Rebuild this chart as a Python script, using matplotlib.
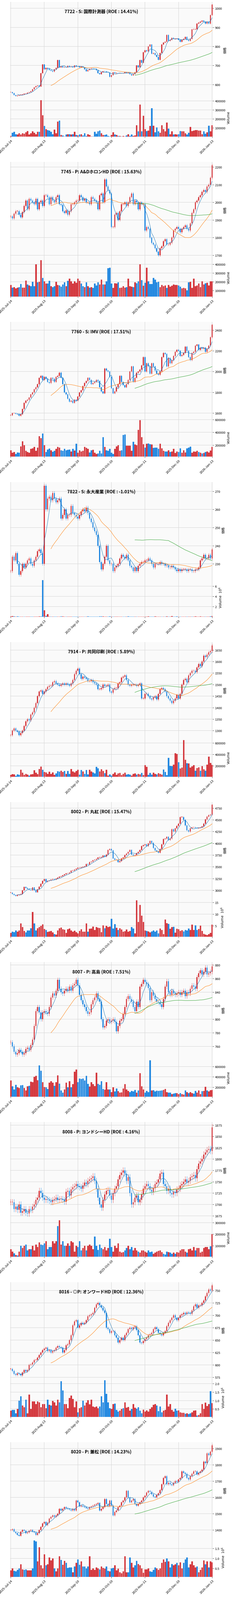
import matplotlib

matplotlib.use("Agg")

import matplotlib.pyplot as plt
import numpy as np

plt.rcParams["font.family"] = ["Noto Sans CJK JP", "DejaVu Sans"]

tick_pos = [0, 20, 40, 60, 80, 100, 120]
tick_labels = ["2025-Jul-14", "2025-Aug-13", "2025-Sep-10", "2025-Oct-10",
               "2025-Nov-11", "2025-Dec-10", "2026-Jan-13"]

titles = [
    "7722 - S: 国際計測器 (ROE : 14.41%)",
    "7745 - P: A&Dホロン HD (ROE : 15.63%)".replace("ン H", "ンH"),
    "7760 - S: IMV (ROE : 17.51%)",
    "7822 - S: 永大産業 (ROE : -1.01%)",
    "7914 - P: 共同印刷 (ROE : 5.89%)",
    "8002 - P: 丸紅 (ROE : 15.47%)",
    "8007 - P: 高島 (ROE : 7.51%)",
    "8008 - P: ヨンドシーHD (ROE : 4.16%)",
    "8016 - ◎P: オンワードHD (ROE : 12.36%)",
    "8020 - P: 兼松 (ROE : 14.23%)",
]

# closes (yen)
close_7722 = [560,555,545,540,542,545,546,548,552,553,557,560,565,575,585,592,595,590,660,705,
              680,688,682,676,672,668,680,688,728,690,695,690,692,690,698,693,695,690,700,695,
              697,690,695,690,680,670,676,682,685,683,682,675,660,655,665,670,668,665,663,640,
              650,665,660,660,658,660,658,660,665,660,664,655,648,655,665,700,690,728,715,770,
              780,775,800,810,762,765,755,745,730,765,810,820,825,860,830,835,845,840,840,842,
              835,825,835,840,850,835,830,840,890,890,890,920,925,930,935,930,920,930,920,965,
              1020]
close_7745 = [1920,1910,1935,1950,1950,1930,1915,1945,1980,2010,1960,2020,2010,2000,1990,2020,1960,2000,2010,1980,
              2040,2040,2030,1990,2030,2010,2000,2030,2040,1990,1985,1950,1940,1955,1930,1950,1990,1990,2000,2010,
              2010,2040,2030,2010,2020,2000,2000,1990,2030,2020,2010,2000,1960,2040,2050,2000,2130,2090,2070,2050,
              1860,1860,1930,1940,1900,1950,1990,1990,2000,1980,2000,2030,2050,1990,2010,2000,1960,2000,1990,1990,
              1840,1860,1850,1800,1770,1760,1740,1720,1700,1740,1750,1780,1790,1760,1760,1770,1800,1840,1850,1860,
              1850,1830,1850,1860,1870,1850,1840,1880,1940,1960,2000,2010,2030,2040,2060,2070,2060,2090,2100,2140,
              2210]
close_7760 = [1580,1600,1600,1595,1590,1575,1590,1640,1700,1720,1730,1750,1780,1800,1830,1850,1880,1940,1960,1920,
              1950,1930,1900,1890,1940,1930,1900,1950,1960,1990,1940,1880,1800,1780,1740,1710,1720,1700,1730,1720,
              1760,1800,1820,1860,1890,1910,1940,1920,1880,1890,1900,1920,1910,1850,1810,1790,2030,2010,2000,1950,
              1840,1790,1810,1850,1880,1960,1900,1870,1850,1880,1920,2000,2050,1900,1940,1990,2000,2020,2060,2140,
              2000,2080,2050,1980,2080,2050,2010,1980,1970,2000,2140,2180,2170,2050,2130,2080,2110,2150,2190,2210,
              2200,2150,2160,2180,2240,2200,2140,2110,2180,2190,2250,2260,2210,2230,2220,2230,2190,2220,2250,2330,
              2450]
close_7822 = [226,234,232,236,230,224,226,230,228,230,232,233,230,229,232,234,237,238,236,230,
              273,260,266,267,265,269,266,264,265,266,255,257,260,255,257,257,262,258,257,256,
              255,257,259,260,259,261,258,255,253,250,248,246,240,231,227,230,234,240,232,230,
              230,226,228,229,230,233,235,234,233,235,232,229,228,226,228,226,229,230,231,231,
              232,232,233,232,230,228,230,230,230,231,230,230,229,229,228,228,229,228,227,226,
              227,226,227,227,227,226,227,227,226,226,227,227,228,232,233,235,233,233,235,233,
              238]
close_7914 = [1280,1300,1310,1300,1295,1280,1290,1300,1320,1340,1350,1345,1370,1380,1400,1420,1450,1470,1475,1460,
              1470,1480,1490,1495,1495,1510,1515,1505,1500,1495,1500,1505,1500,1505,1500,1495,1505,1520,1545,1560,
              1570,1545,1525,1535,1530,1525,1515,1515,1520,1510,1505,1500,1480,1480,1485,1500,1495,1495,1500,1470,
              1465,1480,1485,1485,1505,1510,1530,1535,1540,1520,1500,1495,1500,1500,1500,1495,1500,1505,1440,1440,
              1460,1460,1450,1440,1435,1445,1450,1435,1460,1480,1485,1480,1470,1450,1440,1430,1420,1430,1440,1455,
              1440,1460,1500,1520,1525,1510,1540,1550,1560,1560,1555,1575,1590,1580,1600,1625,1620,1630,1640,1645,
              1670]
close_8002 = [2950,2920,2900,2880,2900,2910,2920,3000,3070,3050,3030,3010,3000,3060,3000,2960,3020,3080,3140,3200,
              3240,3180,3200,3210,3230,3240,3230,3250,3270,3290,3300,3320,3340,3360,3360,3380,3420,3420,3440,3460,
              3480,3480,3490,3500,3510,3560,3550,3600,3610,3640,3650,3670,3700,3700,3710,3740,3720,3760,3860,3880,
              3850,3680,3650,3650,3600,3620,3680,3700,3750,3780,3820,3860,3760,3740,3750,3790,3820,3860,3940,3960,
              3980,3940,4000,4050,4010,3900,3850,3830,3800,3880,3980,4090,4100,4140,4070,4100,4300,4250,4320,4370,
              4420,4560,4560,4500,4380,4280,4250,4320,4340,4340,4330,4320,4330,4340,4360,4420,4510,4570,4600,4610,
              4820]
close_8007 = [766,760,752,748,750,755,752,748,750,756,758,755,762,770,790,812,818,810,800,810,
              812,810,808,818,832,838,835,842,858,845,840,838,842,845,842,848,842,850,852,858,
              850,836,828,822,818,812,808,810,822,828,832,838,830,826,800,788,790,798,800,796,
              798,800,796,782,790,798,800,808,818,830,834,830,826,818,812,826,818,848,852,858,
              855,852,846,828,840,835,830,826,825,822,818,830,848,856,840,836,842,838,836,838,
              840,836,840,842,834,840,838,845,850,848,845,862,868,872,866,870,876,866,868,870,
              878]
close_8008 = [1705,1705,1690,1695,1688,1700,1682,1685,1690,1682,1680,1690,1688,1695,1700,1710,1715,1730,1725,1715,
              1710,1712,1710,1708,1705,1710,1712,1715,1710,1712,1712,1710,1706,1728,1730,1720,1733,1738,1740,1745,
              1740,1738,1735,1742,1748,1745,1752,1755,1758,1762,1752,1735,1715,1700,1693,1710,1722,1730,1732,1720,
              1710,1725,1735,1740,1755,1765,1770,1775,1768,1752,1760,1725,1700,1705,1715,1720,1705,1710,1722,1735,
              1740,1745,1740,1732,1728,1736,1745,1748,1755,1768,1770,1745,1740,1730,1735,1725,1722,1728,1725,1733,
              1735,1742,1745,1750,1755,1748,1752,1760,1762,1765,1758,1778,1790,1795,1800,1810,1815,1820,1822,1818,
              1870]
close_8016 = [592,588,582,580,583,582,579,585,590,587,590,600,601,605,610,610,615,620,625,630,
              633,635,628,630,625,628,630,635,638,636,635,625,630,640,642,650,660,680,688,690,
              675,680,685,683,685,690,698,700,702,705,715,722,725,720,715,710,705,675,672,665,
              668,668,660,655,645,650,655,650,660,665,672,675,672,676,678,670,660,645,644,648,
              652,655,660,662,665,672,676,672,665,662,660,665,668,678,685,690,695,700,695,690,
              695,700,702,705,703,706,705,703,710,718,722,715,720,720,725,730,738,745,752,750,
              760]
close_8020 = [1400,1405,1390,1380,1370,1365,1390,1400,1395,1380,1385,1395,1400,1390,1385,1370,1380,1400,1420,1440,
              1450,1430,1445,1470,1480,1490,1480,1490,1500,1530,1520,1530,1540,1535,1530,1525,1520,1530,1520,1580,
              1570,1545,1550,1545,1540,1535,1530,1540,1545,1550,1555,1560,1565,1520,1530,1540,1590,1560,1545,1580,
              1550,1490,1510,1520,1540,1550,1570,1580,1600,1640,1600,1570,1580,1590,1560,1550,1560,1570,1580,1600,
              1610,1630,1640,1635,1620,1605,1600,1615,1625,1645,1680,1720,1730,1680,1690,1680,1675,1690,1700,1695,
              1710,1720,1760,1750,1745,1720,1710,1730,1745,1760,1760,1740,1750,1760,1770,1820,1810,1870,1860,1880,
              1920]

# volumes (thousand shares)
vol_7722 = [10,45,55,30,25,40,25,40,35,50,65,25,40,60,45,30,55,55,410,240,120,85,75,70,55,30,80,40,170,180,
            20,15,5,25,30,30,25,30,55,20,15,25,30,15,40,10,30,20,5,5,55,35,60,70,40,20,20,25,10,5,
            20,50,25,20,10,10,5,10,5,15,30,10,25,10,15,130,60,360,60,235,85,65,70,120,320,125,50,105,60,45,
            130,85,60,160,90,30,60,25,30,25,30,65,60,60,40,25,45,110,65,70,75,75,70,70,30,60,35,50,125,60,
            130]
vol_7745 = [165,135,140,125,135,140,175,135,135,215,170,160,150,200,150,400,195,200,445,245,205,180,180,210,150,140,150,200,165,160,
            145,170,195,150,210,235,205,180,205,190,235,210,180,150,140,195,150,135,140,130,180,160,195,170,225,170,170,205,355,360,
            180,130,185,180,195,130,135,150,135,140,235,150,145,140,195,185,205,400,220,155,190,360,205,175,175,245,225,195,200,140,
            165,150,160,130,165,145,155,170,165,165,160,145,125,130,125,105,195,200,130,235,150,160,180,140,205,170,185,190,160,205,
            205]
vol_7760 = [120,80,90,60,85,80,180,260,200,110,90,80,140,150,170,110,160,340,310,380,200,90,130,145,120,95,110,140,170,160,
            120,110,140,120,125,130,100,140,115,220,80,120,100,110,170,155,140,85,120,125,80,60,70,110,70,325,170,120,110,140,
            80,60,140,180,200,110,120,360,365,190,190,190,110,250,210,200,440,590,325,215,160,220,225,215,210,155,160,160,140,220,
            150,110,100,100,120,90,100,140,75,100,90,150,80,120,85,150,160,175,80,100,95,110,90,80,70,75,90,100,85,115,
            170]
vol_7822 = [60,110,80,40,60,50,30,40,30,20,40,30,20,40,30,20,50,60,80,7200,1280,170,500,40,30,20,30,40,30,20,
            60,70,50,30,20,40,30,20,30,20,30,40,20,30,20,30,60,30,20,30,40,50,30,60,70,80,30,20,40,60,
            50,30,40,20,30,20,40,30,20,30,60,30,40,30,20,30,20,40,30,20,30,40,60,30,20,50,60,30,30,20,
            40,20,30,60,30,40,120,50,30,60,40,30,20,30,20,30,40,20,30,20,60,40,30,70,40,30,30,20,40,60,
            110]
vol_7914 = [40,55,50,25,50,40,130,80,40,60,45,30,50,55,120,80,55,145,185,130,90,85,60,95,60,85,40,65,105,95,
            115,90,110,60,110,60,145,100,85,110,130,45,125,100,60,125,50,130,100,85,65,180,155,100,140,110,70,130,30,50,
            30,60,85,40,65,75,35,60,80,45,55,45,30,60,65,45,60,50,75,35,210,180,40,75,45,80,60,50,70,60,
            45,135,90,35,340,200,195,220,420,410,265,150,170,650,305,245,240,170,190,210,115,160,175,115,195,140,115,220,360,250,
            215]
vol_8002 = [2000,2500,2300,3000,2500,3000,6000,4500,2800,2200,3000,3000,4000,11000,6000,3000,4000,4500,5000,5600,
            3600,3200,2400,2600,2800,2200,1500,1200,3000,4000,4300,3500,3300,2000,3500,3800,3000,2500,2900,2300,
            1800,2800,3500,2500,2500,6000,2500,3700,3800,4700,3200,4500,4200,4100,2300,5200,4000,5000,4500,4700,
            8000,3900,5700,4200,3200,4000,3400,2500,2700,3400,2500,2800,4500,3900,1800,16000,6700,14000,9400,6700,
            3000,2800,2600,2200,2600,3000,2500,3000,1800,3800,3200,1500,7700,6200,5800,3700,4500,4600,2100,3700,
            3500,2800,3100,2600,3200,3000,3800,3200,5500,3200,5200,3200,3600,5100,2800,1600,1200,1000,1400,2000,
            5500]
vol_8007 = [330,220,160,250,200,185,240,245,185,140,220,230,310,300,400,420,335,620,520,300,
            205,200,170,290,320,290,230,300,430,270,140,100,160,290,200,320,200,260,500,540,
            300,370,360,370,330,420,265,215,300,260,225,480,265,250,320,170,155,300,160,160,
            110,200,120,180,125,100,105,180,260,160,130,110,130,120,150,100,140,470,220,160,
            100,130,110,720,140,145,120,135,130,135,140,150,170,110,100,100,70,80,90,90,
            70,90,70,60,140,110,90,110,90,80,130,100,140,70,125,130,210,140,120,145,150]
vol_8008 = [70,50,35,20,15,50,100,80,100,110,60,70,70,100,60,110,90,130,110,105,
            120,140,70,90,90,140,120,140,270,320,110,140,100,100,120,100,140,130,50,100,
            90,140,60,80,100,60,100,110,100,70,180,100,65,110,80,70,90,60,80,160,
            90,50,100,80,120,50,40,45,60,80,100,70,90,60,80,60,50,40,60,60,
            50,40,60,45,50,30,40,50,55,60,45,30,25,50,45,40,30,40,30,45,
            40,60,70,70,50,40,70,75,60,90,60,80,80,40,50,80,90,90,70,95,
            200]
vol_8016 = [400,450,450,250,500,1000,1250,700,600,1050,250,1350,500,950,950,800,950,900,600,800,
            800,550,1050,750,700,980,900,700,1050,900,2150,1600,800,800,550,1150,1300,1100,600,950,
            300,550,600,1000,700,880,1020,780,1050,650,600,650,550,650,1250,900,2200,1400,900,550,
            500,800,820,450,350,400,500,550,900,580,620,400,500,800,580,520,600,400,250,460,
            350,420,350,500,600,750,800,700,380,650,300,400,450,1350,650,800,450,350,520,400,
            420,300,280,280,220,250,200,250,300,400,420,120,150,250,800,500,880,680,800,1550,
            850]
vol_8020 = [400,500,380,350,430,500,700,450,420,450,400,400,400,500,1900,1850,850,1550,650,500,
            1200,650,700,1050,900,1000,500,350,500,1100,920,680,880,780,520,550,550,300,600,780,
            950,680,850,600,600,500,600,1100,420,500,420,550,500,450,600,520,480,600,380,350,
            500,520,650,400,480,300,250,350,1100,300,300,1050,780,550,650,880,720,650,500,280,
            450,450,500,350,330,420,550,500,420,500,780,950,820,1000,850,550,720,650,700,780,
            650,800,500,780,950,1050,550,700,850,650,550,600,300,420,550,900,700,850,550,850,
            800]

closes = [close_7722, close_7745, close_7760, close_7822, close_7914,
          close_8002, close_8007, close_8008, close_8016, close_8020]
volumes = [vol_7722, vol_7745, vol_7760, vol_7822, vol_7914,
           vol_8002, vol_8007, vol_8008, vol_8016, vol_8020]

UP = "#d3343a"
DOWN = "#1f86e0"
FACE = "#fafafa"
GRID = "#d8d8d8"

W, H = 960, 6582
fig = plt.figure(figsize=(W / 100, H / 100), dpi=100)
block = H / 10
left, right = 42, 876


def moving_average(x, w):
    out = np.full(len(x), np.nan)
    if len(x) >= w:
        cs = np.convolve(x, np.ones(w) / w, mode="valid")
        out[w - 1:] = cs
    return out


for k in range(10):
    n = min(len(closes[k]), len(volumes[k]))
    c = np.array(closes[k][-n:], dtype=float)
    v = np.array(volumes[k][-n:], dtype=float) * 1000
    o = np.r_[c[0], c[:-1]]
    hi = np.maximum(o, c) * 1.004
    lo = np.minimum(o, c) * 0.996
    x = np.arange(n)
    up = c >= o
    cols = np.where(up, UP, DOWN)

    top = k * block + 9
    ax = fig.add_axes([left / W, 1 - (top + 396) / H, (right - left) / W, 396 / H])
    axv = fig.add_axes([left / W, 1 - (top + 554) / H, (right - left) / W, 158 / H], sharex=ax)
    for a in (ax, axv):
        a.set_facecolor(FACE)
        a.grid(True, color=GRID, linewidth=1.2)
        a.set_axisbelow(True)
        for s in a.spines.values():
            s.set_visible(False)
        a.yaxis.tick_right()
        a.yaxis.set_label_position("right")
        a.tick_params(labelsize=9.5)

    body = np.abs(c - o)
    body = np.maximum(body, (c.max() - c.min()) * 0.004)
    ax.vlines(x, lo, hi, colors=cols, linewidth=0.8)
    ax.bar(x, body, bottom=np.minimum(o, c), width=0.65, color=cols, linewidth=0)
    for w, col, lw in ((5, "#1f77b4", 1.0), (25, "#ff7f0e", 1.0), (75, "#2ca02c", 1.0)):
        ax.plot(x, moving_average(c, w), color=col, linewidth=lw)
    span = hi.max() - lo.min()
    ax.set_ylim(lo.min() - 0.02 * span, hi.max() + 0.02 * span)
    ax.set_ylabel("価格", fontsize=10)
    ax.text(0.45, 0.9, titles[k], transform=ax.transAxes, ha="center", va="center",
            fontsize=13, fontweight="bold")
    plt.setp(ax.get_xticklabels(), visible=False)

    vmax = v.max()
    if vmax > 1e6:
        axv.bar(x, v / 1e6, width=0.8, color=cols, edgecolor=cols, linewidth=0.5)
        axv.set_ylim(v.min() * 0.3 / 1e6, vmax * 1.05 / 1e6)
        axv.set_ylabel("Volume  $10^6$", family="DejaVu Sans", fontsize=10)
    else:
        axv.bar(x, v, width=0.8, color=cols, edgecolor=cols, linewidth=0.5)
        axv.set_ylim(v.min() * 0.3, vmax * 1.05)
        axv.set_ylabel("Volume", family="DejaVu Sans", fontsize=10)
    axv.set_xlim(-0.3, n - 0.7)
    pos = [min(p, n - 1) for p in tick_pos]
    axv.set_xticks(pos)
    axv.set_xticklabels(tick_labels, rotation=45, ha="right", rotation_mode="anchor", fontsize=9.5)

fig.savefig("out.png", dpi=100, facecolor="white")
